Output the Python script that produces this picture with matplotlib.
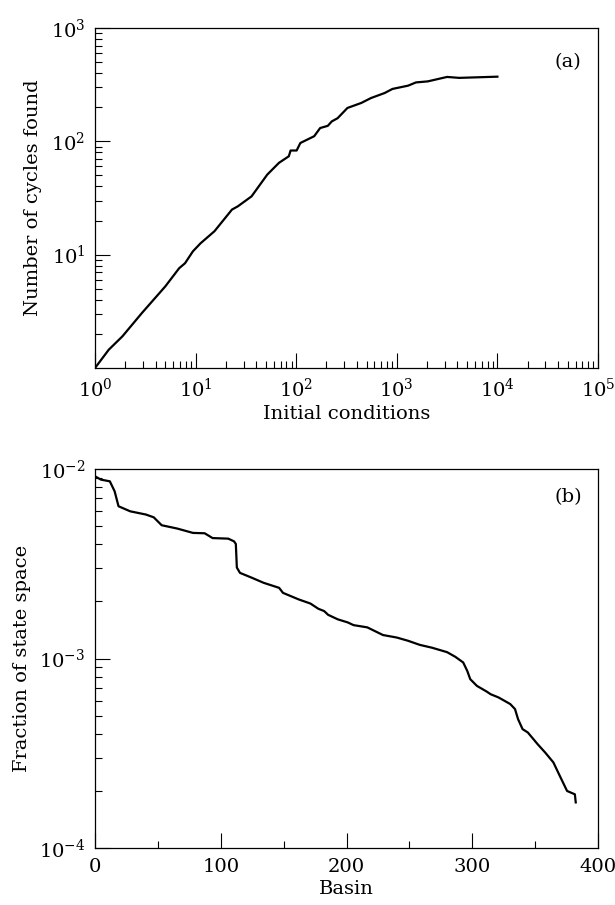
import numpy as np
import matplotlib; matplotlib.use("Agg")
import matplotlib.pyplot as plt
from matplotlib.ticker import LogLocator, MultipleLocator, NullFormatter, LogFormatterMathtext

plt.rcParams.update({"font.family": "DejaVu Serif", "mathtext.fontset": "dejavuserif",
                     "font.size": 14, "axes.linewidth": 0.9,
                     "xtick.direction": "in", "ytick.direction": "in"})

# (a) cumulative number of cycles found vs number of initial conditions
init_cond = [1, 1.37, 1.87, 2.93, 5.0, 6.87, 7.85, 9.4, 11.2, 15.4, 23, 26.3, 36, 51.5,
             67.4, 84.4, 88, 101, 110, 151, 173, 206, 226, 258, 323, 443, 554, 758, 906,
             1297, 1550, 2030, 3160, 4170, 10000]
cycles = [1, 1.45, 1.90, 3.06, 5.25, 7.6, 8.4, 10.7, 12.6, 16.1, 25, 26.7, 32.7, 50.8,
          64.6, 73.8, 83, 83, 96.7, 111, 131, 137, 150, 160, 197, 218, 241, 267, 290,
          310, 331, 338, 370, 363, 372]

# (b) fraction of state space per basin, basins sorted by size
basin = [0, 4.7, 11.8, 15.6, 18.7, 28, 40.5, 46.7, 53, 65.4, 77.9, 87.2, 93.5, 106,
         110.6, 112, 112.8, 115.3, 124.6, 134, 146.4, 149.5, 162, 171.3, 177.6, 182.2,
         185.4, 193, 201, 205.6, 216.5, 229, 240, 249, 258.3, 268, 280, 286.6, 292.8,
         296, 298.4, 303.7, 311.5, 314.6, 320.9, 330.2, 334, 336.4, 340, 344.2, 352,
         358, 364.5, 369, 375.4, 381.6, 382.3]
fraction = [9.15e-3, 8.79e-3, 8.61e-3, 7.63e-3, 6.36e-3, 5.98e-3, 5.75e-3, 5.56e-3,
            5.05e-3, 4.85e-3, 4.60e-3, 4.58e-3, 4.32e-3, 4.29e-3, 4.15e-3, 4.02e-3,
            3.02e-3, 2.83e-3, 2.67e-3, 2.51e-3, 2.36e-3, 2.22e-3, 2.05e-3, 1.95e-3,
            1.83e-3, 1.78e-3, 1.70e-3, 1.61e-3, 1.55e-3, 1.50e-3, 1.46e-3, 1.33e-3,
            1.29e-3, 1.24e-3, 1.18e-3, 1.14e-3, 1.08e-3, 1.02e-3, 9.53e-4, 8.61e-4,
            7.78e-4, 7.17e-4, 6.69e-4, 6.48e-4, 6.23e-4, 5.75e-4, 5.41e-4, 4.79e-4,
            4.24e-4, 4.07e-4, 3.53e-4, 3.19e-4, 2.83e-4, 2.45e-4, 2.00e-4, 1.92e-4, 1.74e-4]

fig = plt.figure(figsize=(6.15, 9.05), dpi=100)
axa = fig.add_axes([95/615, 1-368/905, 503/615, 340/905])
axb = fig.add_axes([95/615, 1-848/905, 503/615, 379/905])

def style(ax):
    ax.tick_params(which="major", length=10.5, width=0.8, top=False, right=False, pad=7)
    ax.tick_params(which="minor", length=5, width=0.8, top=False, right=False)

axa.plot(init_cond, cycles, color="black", lw=1.6)
axa.set_xscale("log"); axa.set_yscale("log")
axa.set_xlim(1, 1e5); axa.set_ylim(1, 1e3)
axa.xaxis.set_major_locator(LogLocator(base=10, numticks=10))
axa.xaxis.set_minor_locator(LogLocator(base=10, subs=np.arange(2, 10), numticks=20))
axa.xaxis.set_minor_formatter(NullFormatter())
axa.set_yticks([10, 100, 1000])
axa.yaxis.set_major_formatter(LogFormatterMathtext())
axa.yaxis.set_minor_locator(LogLocator(base=10, subs=np.arange(2, 10), numticks=20))
axa.yaxis.set_minor_formatter(NullFormatter())
axa.set_xlabel("Initial conditions", labelpad=3)
axa.set_ylabel("Number of cycles found", labelpad=6)
axa.text(0.94, 0.9, "(a)", transform=axa.transAxes, ha="center", va="center")
style(axa)

axb.plot(basin, fraction, color="black", lw=1.6)
axb.set_yscale("log")
axb.set_xlim(0, 400); axb.set_ylim(1e-4, 1e-2)
axb.xaxis.set_major_locator(MultipleLocator(100))
axb.xaxis.set_minor_locator(MultipleLocator(50))
axb.yaxis.set_minor_locator(LogLocator(base=10, subs=np.arange(2, 10), numticks=20))
axb.yaxis.set_minor_formatter(NullFormatter())
axb.set_xlabel("Basin", labelpad=3)
axb.set_ylabel("Fraction of state space", labelpad=6)
axb.text(0.94, 0.925, "(b)", transform=axb.transAxes, ha="center", va="center")
style(axb)

fig.savefig("out.png", dpi=100)
